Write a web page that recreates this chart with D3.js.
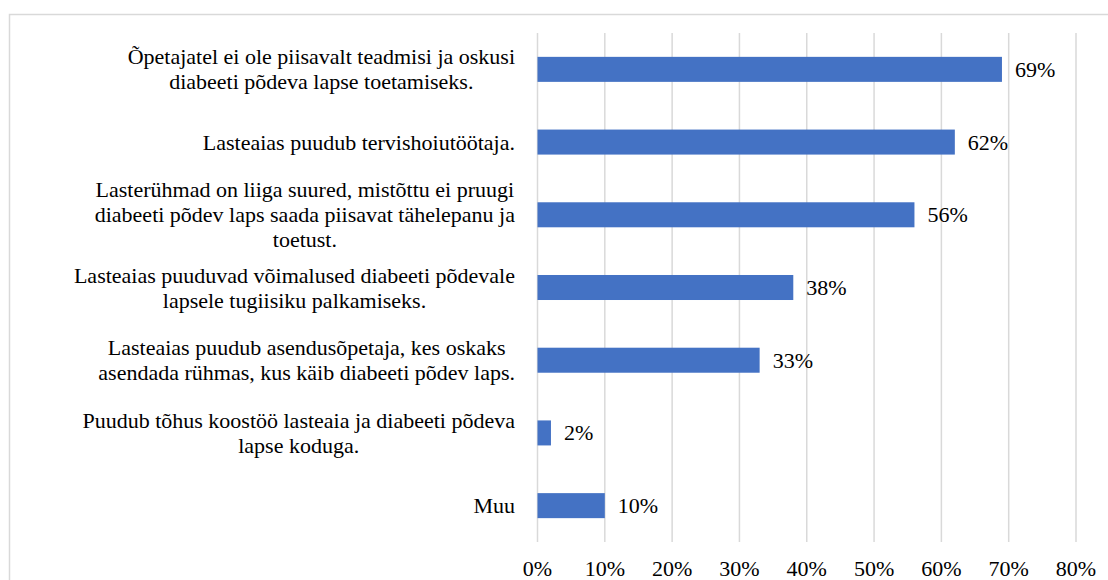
<!DOCTYPE html>
<html>
<head>
<meta charset="utf-8">
<script src="https://cdn.jsdelivr.net/npm/d3@7"></script>
<style>
  body { margin: 0; background: #fff; }
  #wrap { position: relative; width: 1108px; height: 580px; overflow: hidden; }
  #chart { position: absolute; left: 0; top: 0; }
  #wrap, #wrap * { font-family: 'Liberation Serif', 'Times New Roman', Times, serif !important; }
  .lbl {
    position: absolute;
    font-size: 22px;
    line-height: 25px;
    color: #000;
    white-space: nowrap;
  }
  .cat { text-align: center; }
  .tick { transform: translateX(-50%); }
</style>
</head>
<body>
<div id="wrap" style="font-family:'Liberation Serif', serif">
  <svg id="chart" width="1108" height="580"></svg>
</div>
<script>
// categories, each one already split into its lines
const categories = [
  ['Õpetajatel ei ole piisavalt teadmisi ja oskusi', 'diabeeti põdeva lapse toetamiseks.'],
  ['Lasteaias puudub tervishoiutöötaja.'],
  ['Lasterühmad on liiga suured, mistõttu ei pruugi', 'diabeeti põdev laps saada piisavat tähelepanu ja', 'toetust.'],
  ['Lasteaias puuduvad võimalused diabeeti põdevale', 'lapsele tugiisiku palkamiseks.'],
  ['Lasteaias puudub asendusõpetaja, kes oskaks', 'asendada rühmas, kus käib diabeeti põdev laps.'],
  ['Puudub tõhus koostöö lasteaia ja diabeeti põdeva', 'lapse koduga.'],
  ['Muu']
];
const values = [69, 62, 56, 38, 33, 2, 10];
const ticks = [0, 10, 20, 30, 40, 50, 60, 70, 80];

const svg = d3.select('#chart');
const wrap = d3.select('#wrap');

// chart area border
svg.append('rect')
  .attr('x', 9.5)
  .attr('y', 14.5)
  .attr('width', 1200)
  .attr('height', 700)
  .attr('fill', 'none')
  .attr('stroke', '#d9d9d9')
  .attr('stroke-width', 1.5);

const x = d3.scaleLinear()
  .domain([0, 80])
  .range([537.5, 1076]);

const y = d3.scaleBand()
  .domain(d3.range(categories.length))
  .range([33, 542])
  .paddingInner(0.656)
  .paddingOuter(0.328);

const lineH = 25;

// gridlines
svg.append('g')
  .selectAll('line')
  .data(ticks)
  .enter()
    .append('line')
      .attr('x1', d => x(d))
      .attr('x2', d => x(d))
      .attr('y1', 33)
      .attr('y2', 542)
      .attr('stroke', '#d9d9d9')
      .attr('stroke-width', 1.5);

// bars
svg.append('g')
  .selectAll('rect')
  .data(values)
  .enter()
    .append('rect')
      .attr('x', x(0))
      .attr('y', (d, i) => y(i))
      .attr('width', d => x(d) - x(0))
      .attr('height', y.bandwidth())
      .attr('fill', '#4472c4');

// value labels
wrap.selectAll('.val')
  .data(values)
  .enter()
    .append('div')
      .attr('class', 'lbl val')
      .style('left', d => (x(d) + 13) + 'px')
      .style('top', (d, i) => (y(i) + y.bandwidth() / 2 - lineH / 2) + 'px')
      .text(d => d + '%');

// x axis tick labels
wrap.selectAll('.tick')
  .data(ticks)
  .enter()
    .append('div')
      .attr('class', 'lbl tick')
      .style('left', d => x(d) + 'px')
      .style('top', (568 - lineH / 2) + 'px')
      .text(d => d + '%');

// category labels: lines centred on each other, block right aligned
wrap.selectAll('.cat')
  .data(categories)
  .enter()
    .append('div')
      .attr('class', 'lbl cat')
      .style('right', (1108 - 515) + 'px')
      .style('top', (d, i) => (y(i) + y.bandwidth() / 2 - d.length * lineH / 2) + 'px')
      .html(d => d.join('<br>'));
</script>
</body>
</html>
